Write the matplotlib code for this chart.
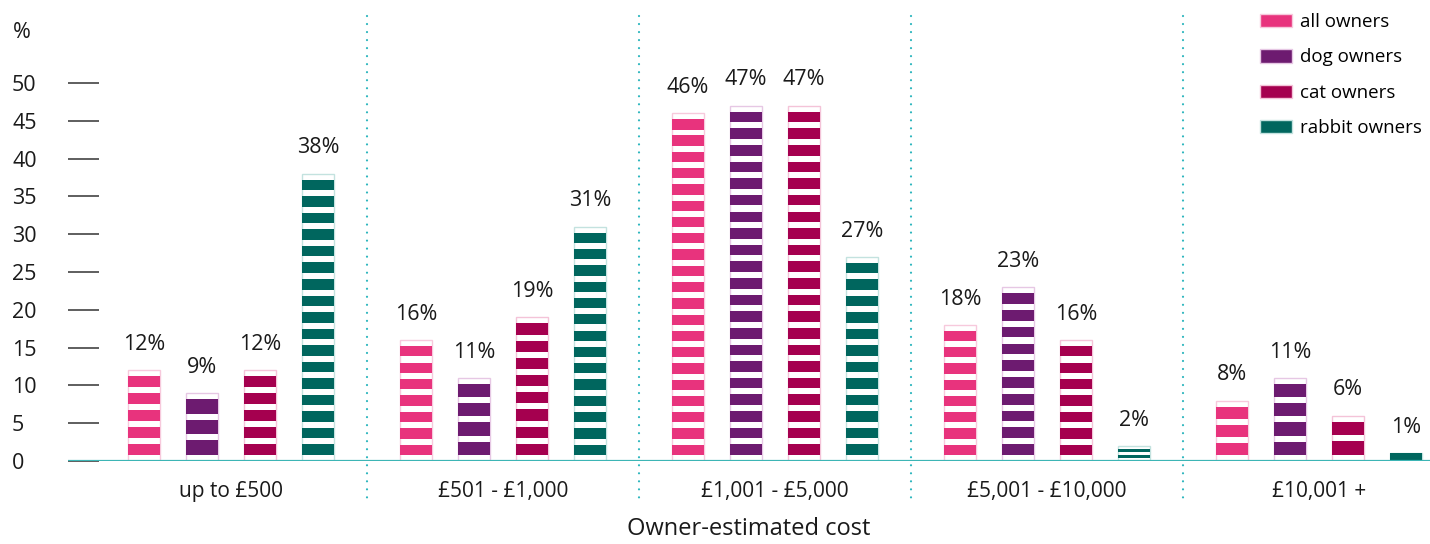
import matplotlib
matplotlib.use("Agg")
import matplotlib.pyplot as plt
import matplotlib.transforms as mtransforms
from matplotlib.patches import Rectangle, Patch

plt.rcParams['font.family'] = ['Open Sans', 'DejaVu Sans']

# data
cost_bands = ['up to £500', '£501 - £1,000', '£1,001 - £5,000', '£5,001 - £10,000', '£10,001 +']
owners = ['all owners', 'dog owners', 'cat owners', 'rabbit owners']
all_owners = [12, 16, 46, 18, 8]
dog_owners = [9, 11, 47, 23, 11]
cat_owners = [12, 19, 47, 16, 6]
rabbit_owners = [38, 31, 27, 2, 1]

# number of stripes drawn in each bar (pictogram look)
all_stripes = [5, 7, 21, 8, 3]
dog_stripes = [3, 4, 21, 10, 4]
cat_stripes = [5, 8, 21, 7, 2]
rabbit_stripes = [17, 14, 12, 2, 1]

series = [all_owners, dog_owners, cat_owners, rabbit_owners]
stripes = [all_stripes, dog_stripes, cat_stripes, rabbit_stripes]
colors = ['#E8337D', '#6D1B70', '#A5004F', '#00665E']
edge_colors = ['#F7C9DC', '#E6C7E4', '#F4C3D8', '#C3E2DF']

fig = plt.figure(figsize=(14.3, 5.44), dpi=100)
ax = fig.add_axes([68 / 1430, 83 / 544, 1362 / 1430, 445 / 544])

bar_w = 0.118
step = 0.2135
gap_max = 0.8

for s, (values, counts) in enumerate(zip(series, stripes)):
    offset = (s - 1.5) * step
    for i, (v, n) in enumerate(zip(values, counts)):
        x0 = i + offset - bar_w / 2
        # pale outline of the whole bar
        ax.add_patch(Rectangle((x0, 0), bar_w, v, facecolor='white',
                               edgecolor=edge_colors[s], linewidth=1.0, zorder=2))
        if n > 1:
            g = min(gap_max, 0.36 * v / n)
        else:
            g = 0
        h = (v - (n + 1) * g) / n
        for k in range(n):
            y0 = g + k * (h + g)
            ax.add_patch(Rectangle((x0, y0), bar_w, h, facecolor=colors[s],
                                   edgecolor='none', zorder=3))
        ax.annotate('{}%'.format(v), (i + offset, v), xytext=(0, 11),
                    textcoords='offset points', ha='center', va='bottom',
                    fontsize=15.5, color='#1a1a1a')

ax.set_xlim((68 - 231) / 272, (1430 - 231) / 272)
ax.set_ylim(0, 445 / 7.56)

for sp in ax.spines.values():
    sp.set_visible(False)

ax.axhline(0, color='#3DB5B5', linewidth=1.6, zorder=4)

# dotted separators between the cost bands
trans = mtransforms.blended_transform_factory(ax.transData, ax.transAxes)
for xs in [0.5, 1.5, 2.5, 3.5]:
    ax.plot([xs, xs], [1.0, -44 / 445], transform=trans, clip_on=False,
            color='#2BB5BD', linewidth=1.6, linestyle=(0, (0.01, 3.6)),
            dash_capstyle='round', zorder=1)

ax.set_yticks(range(0, 51, 5))
ax.tick_params(axis='y', direction='in', length=22.3, width=1.1, color='#333333',
               pad=40.3, labelsize=15.5, labelcolor='#1a1a1a')
for lab in ax.get_yticklabels():
    lab.set_horizontalalignment('left')

ax.set_xticks(range(len(cost_bands)))
ax.set_xticklabels(cost_bands)
ax.tick_params(axis='x', length=0, pad=14.5, labelsize=15, labelcolor='#1a1a1a')
ax.set_xlabel('Owner-estimated cost', fontsize=17, color='#1a1a1a', labelpad=11)

fig.text(13 / 1430, 1 - 33 / 544, '%', fontsize=15.5, color='#1a1a1a',
         ha='left', va='center')

handles = [Patch(facecolor=c, edgecolor=e, linewidth=1.0) for c, e in zip(colors, edge_colors)]
fig.legend(handles, owners, loc='upper left', bbox_to_anchor=(1260 / 1430, 1 - 13 / 544),
           frameon=False, fontsize=13.5, handlelength=1.7, handleheight=0.72,
           handletextpad=0.43, labelspacing=0.93, borderpad=0, borderaxespad=0)

fig.savefig('out.png', dpi=100)
